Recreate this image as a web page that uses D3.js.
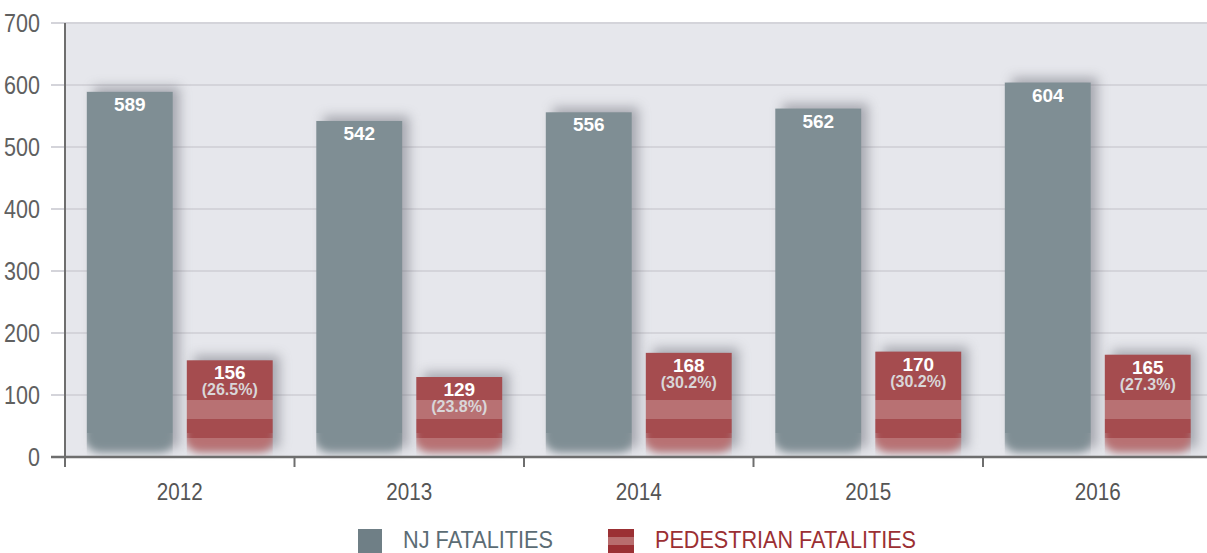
<!DOCTYPE html>
<html>
<head>
<meta charset="utf-8">
<script src="https://cdn.jsdelivr.net/npm/d3@7"></script>
<style>
  body { margin: 0; background: #fff; }
  svg text { font-family: "Liberation Sans", Arial, sans-serif; }
</style>
</head>
<body>
<div id="chart"></div>
<script>
// data
var years = ["2012", "2013", "2014", "2015", "2016"];
var njFatalities = [589, 542, 556, 562, 604];
var pedFatalities = [156, 129, 168, 170, 165];
var pedShare = ["(26.5%)", "(23.8%)", "(30.2%)", "(30.2%)", "(27.3%)"];
var yTicks = [0, 100, 200, 300, 400, 500, 600, 700];
var seriesNames = ["NJ FATALITIES", "PEDESTRIAN FATALITIES"];

var width = 1207, height = 553;
var margin = {top: 23, left: 65, bottom: 96};
var plotBottom = height - margin.bottom;

var svg = d3.select("#chart").append("svg")
    .attr("width", width)
    .attr("height", height);

var defs = svg.append("defs");

// squeeze text horizontally (the original uses a condensed face)
function narrow(sel, k) {
    sel.each(function() {
        var w = this.getComputedTextLength();
        d3.select(this).attr("textLength", w * k).attr("lengthAdjust", "spacingAndGlyphs");
    });
}

// blur filters
defs.append("filter").attr("id", "shadow")
    .attr("x", "-40%").attr("y", "-40%").attr("width", "180%").attr("height", "180%")
  .append("feGaussianBlur").attr("stdDeviation", 6);
defs.append("filter").attr("id", "soft")
    .attr("x", "-40%").attr("y", "-40%").attr("width", "180%").attr("height", "180%")
  .append("feGaussianBlur").attr("stdDeviation", 4);

// stripes for pedestrian bars: two light bands near the baseline, dark above
var pat = defs.append("pattern").attr("id", "stripes")
    .attr("patternUnits", "userSpaceOnUse")
    .attr("x", 0).attr("y", plotBottom - 400)
    .attr("width", 20).attr("height", 400);
pat.append("rect").attr("width", 20).attr("height", 400).attr("fill", "#a54c4f");
pat.append("rect").attr("y", 343).attr("width", 20).attr("height", 19).attr("fill", "#b87173");
pat.append("rect").attr("y", 381).attr("width", 20).attr("height", 19).attr("fill", "#b87173");

// scales
var x0 = d3.scaleBand()
    .domain(years)
    .range([margin.left, margin.left + 229.5 * years.length]);

var x1 = d3.scaleBand()
    .domain([0, 1])
    .range([0, x0.bandwidth()])
    .paddingInner(0.14)
    .paddingOuter(0.2175);

var y = d3.scaleLinear()
    .domain([0, 700])
    .range([plotBottom, margin.top]);

// plot background
svg.append("rect")
    .attr("x", margin.left)
    .attr("y", y(700))
    .attr("width", width - margin.left)
    .attr("height", plotBottom - y(700))
    .attr("fill", "#e6e7ec");

// gridlines + y labels
var yAxis = svg.append("g")
    .attr("transform", "translate(" + margin.left + ",0)")
    .call(d3.axisLeft(y).tickValues(yTicks).tickSize(0).tickPadding(25));
yAxis.select(".domain").remove();
yAxis.selectAll("text")
    .attr("font-size", 25)
    .attr("fill", "#606060")
    .attr("font-family", null)
    .call(narrow, 0.86);

svg.append("g").selectAll("line")
    .data(yTicks.filter(function(d) { return d > 0; }))
    .enter().append("line")
    .attr("x1", 51).attr("x2", width)
    .attr("y1", function(d) { return y(d); })
    .attr("y2", function(d) { return y(d); })
    .attr("stroke", "#d4d4da")
    .attr("stroke-width", 2);

var rows = years.map(function(yr, i) {
    return {year: yr, values: [njFatalities[i], pedFatalities[i]], share: pedShare[i]};
});

var groups = svg.selectAll(".grp")
    .data(rows)
    .enter().append("g")
    .attr("class", "grp")
    .attr("transform", function(d) { return "translate(" + x0(d.year) + ",0)"; });

var bars = groups.selectAll(".bar")
    .data(function(d, gi) {
        return d.values.map(function(v, k) { return {k: k, v: v, gi: gi, share: d.share}; });
    })
    .enter().append("g")
    .attr("class", "bar");

// shadow behind each bar
bars.append("rect")
    .attr("x", function(d) { return x1(d.k) + 7; })
    .attr("y", function(d) { return y(d.v) - 5; })
    .attr("width", x1.bandwidth())
    .attr("height", function(d) { return plotBottom - y(d.v) - 4; })
    .attr("fill", "#6a6c76")
    .attr("opacity", 0.5)
    .attr("filter", "url(#shadow)");

// mask giving the bars a soft, rounded bottom (local coords of the group)
bars.each(function(d) {
    var bx = x1(d.k), by = y(d.v), bw = x1.bandwidth(), bh = plotBottom - y(d.v);
    var m = defs.append("mask").attr("id", "m" + d.gi + "_" + d.k)
        .attr("maskUnits", "userSpaceOnUse")
        .attr("x", bx - 30).attr("y", by - 30).attr("width", bw + 60).attr("height", bh + 60);
    m.append("rect")
        .attr("x", bx - 3).attr("y", by - 20).attr("width", bw + 6).attr("height", bh + 15)
        .attr("rx", 16)
        .attr("fill", "#fff").attr("filter", "url(#soft)");
    m.append("rect")
        .attr("x", bx).attr("y", by).attr("width", bw).attr("height", Math.max(0, bh - 24))
        .attr("fill", "#fff");
});

bars.append("rect")
    .attr("x", function(d) { return x1(d.k); })
    .attr("y", function(d) { return y(d.v); })
    .attr("width", x1.bandwidth())
    .attr("height", function(d) { return plotBottom - y(d.v); })
    .attr("fill", function(d) { return d.k === 0 ? "#7f8e94" : "url(#stripes)"; })
    .attr("mask", function(d) { return "url(#m" + d.gi + "_" + d.k + ")"; });

// value labels
bars.append("text")
    .attr("x", function(d) { return x1(d.k) + x1.bandwidth() / 2; })
    .attr("y", function(d) { return y(d.v) + 19; })
    .attr("text-anchor", "middle")
    .attr("font-weight", "bold")
    .attr("font-size", 19)
    .attr("fill", "#fff")
    .text(function(d) { return d.v; });

bars.filter(function(d) { return d.k === 1; }).append("text")
    .attr("x", function(d) { return x1(d.k) + x1.bandwidth() / 2; })
    .attr("y", function(d) { return y(d.v) + 35; })
    .attr("text-anchor", "middle")
    .attr("font-weight", "bold")
    .attr("font-size", 16)
    .attr("fill", "#d9d6d8")
    .text(function(d) { return d.share; });

// axes lines
svg.append("line")
    .attr("x1", margin.left).attr("x2", margin.left)
    .attr("y1", y(700)).attr("y2", plotBottom + 10)
    .attr("stroke", "#6e6e6e").attr("stroke-width", 2);

svg.append("line")
    .attr("x1", 51).attr("x2", width)
    .attr("y1", plotBottom).attr("y2", plotBottom)
    .attr("stroke", "#6e6e6e").attr("stroke-width", 2.5);

svg.append("g").selectAll("line")
    .data(years)
    .enter().append("line")
    .attr("x1", function(d) { return x0(d); })
    .attr("x2", function(d) { return x0(d); })
    .attr("y1", plotBottom).attr("y2", plotBottom + 10)
    .attr("stroke", "#6e6e6e").attr("stroke-width", 2);

svg.append("g").selectAll("text")
    .data(years)
    .enter().append("text")
    .attr("x", function(d) { return x0(d) + x0.bandwidth() / 2; })
    .attr("y", plotBottom + 43)
    .attr("text-anchor", "middle")
    .attr("font-size", 24)
    .attr("fill", "#555")
    .text(function(d) { return d; })
    .call(narrow, 0.86);

// legend
var legend = svg.append("g");
legend.append("rect")
    .attr("x", 358).attr("y", 529).attr("width", 24).attr("height", 24)
    .attr("fill", "#6f7f86");
legend.append("text")
    .attr("x", 403).attr("y", 548)
    .attr("font-size", 24)
    .attr("fill", "#5b6c74")
    .attr("textLength", 150).attr("lengthAdjust", "spacingAndGlyphs")
    .text(seriesNames[0]);

legend.append("rect")
    .attr("x", 608).attr("y", 529).attr("width", 26).attr("height", 24)
    .attr("fill", "#9b3034");
legend.append("rect")
    .attr("x", 608).attr("y", 537).attr("width", 26).attr("height", 8)
    .attr("fill", "#b86d6e");
legend.append("text")
    .attr("x", 655).attr("y", 548)
    .attr("font-size", 24)
    .attr("fill", "#9b2f33")
    .attr("textLength", 261).attr("lengthAdjust", "spacingAndGlyphs")
    .text(seriesNames[1]);
</script>
</body>
</html>
